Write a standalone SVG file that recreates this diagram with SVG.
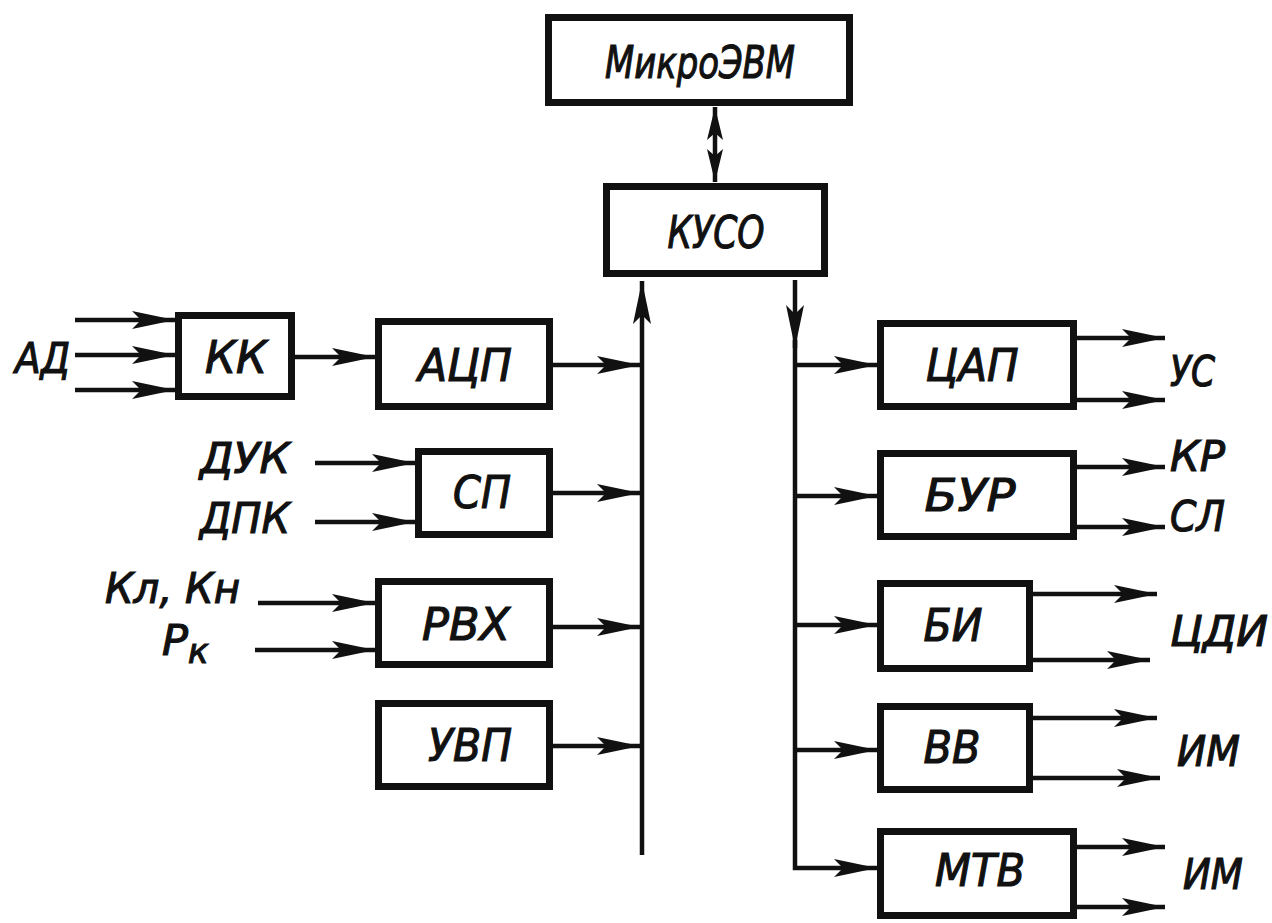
<svg xmlns="http://www.w3.org/2000/svg" width="1272" height="923" viewBox="0 0 1272 923">
<style>
.box{fill:#fff;stroke:#111;stroke-width:7}
.ln{fill:none;stroke:#111;stroke-width:4.5}
.t{font-family:"DejaVu Sans","Liberation Sans",sans-serif;font-style:italic;font-size:45px;fill:#111;stroke:#111;stroke-width:1.2;text-anchor:middle}
.l{font-family:"DejaVu Sans","Liberation Sans",sans-serif;font-style:italic;font-size:43px;fill:#111;stroke:#111;stroke-width:1.2}
</style>
<defs>
<marker id="ah" markerUnits="userSpaceOnUse" markerWidth="44" markerHeight="20" refX="43" refY="10" orient="auto">
<path d="M0,1 L43,10 L0,19 L9,10 Z" fill="#111"/>
</marker>
<marker id="ahs" markerUnits="userSpaceOnUse" markerWidth="34" markerHeight="20" refX="33" refY="10" orient="auto-start-reverse">
<path d="M0,2 L33,10 L0,18 L7,10 Z" fill="#111"/>
</marker>
</defs>
<rect width="1272" height="923" fill="#fff"/>
<g id="connectors">
<line class="ln" x1="715" y1="107" x2="715" y2="182" marker-start="url(#ahs)" marker-end="url(#ahs)"/>
<line class="ln" x1="642" y1="855" x2="642" y2="281" marker-end="url(#ah)"/>
<line class="ln" x1="795" y1="280" x2="795" y2="348" marker-end="url(#ah)"/>
<path class="ln" d="M795,340 L795,868 L877,868" marker-end="url(#ah)"/>
<line class="ln" x1="75" y1="320" x2="175" y2="320" marker-end="url(#ah)"/>
<line class="ln" x1="75" y1="355" x2="175" y2="355" marker-end="url(#ah)"/>
<line class="ln" x1="75" y1="390" x2="175" y2="390" marker-end="url(#ah)"/>
<line class="ln" x1="295" y1="357" x2="375" y2="357" marker-end="url(#ah)"/>
<line class="ln" x1="553" y1="365" x2="640" y2="365" marker-end="url(#ah)"/>
<line class="ln" x1="315" y1="463" x2="415" y2="463" marker-end="url(#ah)"/>
<line class="ln" x1="315" y1="522" x2="415" y2="522" marker-end="url(#ah)"/>
<line class="ln" x1="553" y1="493" x2="640" y2="493" marker-end="url(#ah)"/>
<line class="ln" x1="258" y1="603" x2="375" y2="603" marker-end="url(#ah)"/>
<line class="ln" x1="255" y1="650" x2="375" y2="650" marker-end="url(#ah)"/>
<line class="ln" x1="553" y1="627" x2="640" y2="627" marker-end="url(#ah)"/>
<line class="ln" x1="553" y1="746" x2="640" y2="746" marker-end="url(#ah)"/>
<line class="ln" x1="795" y1="365" x2="877" y2="365" marker-end="url(#ah)"/>
<line class="ln" x1="795" y1="496" x2="877" y2="496" marker-end="url(#ah)"/>
<line class="ln" x1="795" y1="625" x2="877" y2="625" marker-end="url(#ah)"/>
<line class="ln" x1="795" y1="750" x2="877" y2="750" marker-end="url(#ah)"/>
<line class="ln" x1="1077" y1="338" x2="1165" y2="338" marker-end="url(#ah)"/>
<line class="ln" x1="1077" y1="400" x2="1165" y2="400" marker-end="url(#ah)"/>
<line class="ln" x1="1077" y1="467" x2="1165" y2="467" marker-end="url(#ah)"/>
<line class="ln" x1="1077" y1="527" x2="1165" y2="527" marker-end="url(#ah)"/>
<line class="ln" x1="1033" y1="594" x2="1157" y2="594" marker-end="url(#ah)"/>
<line class="ln" x1="1033" y1="660" x2="1150" y2="660" marker-end="url(#ah)"/>
<line class="ln" x1="1033" y1="718" x2="1157" y2="718" marker-end="url(#ah)"/>
<line class="ln" x1="1033" y1="778" x2="1160" y2="778" marker-end="url(#ah)"/>
<line class="ln" x1="1077" y1="847" x2="1165" y2="847" marker-end="url(#ah)"/>
<line class="ln" x1="1077" y1="907" x2="1165" y2="907" marker-end="url(#ah)"/>
</g>
<g id="mikroevm"><rect class="box" x="548.5" y="17.5" width="301" height="85"/><text class="t" x="700" y="78" textLength="190" lengthAdjust="spacingAndGlyphs">МикроЭВМ</text></g>
<g id="kuso"><rect class="box" x="606.5" y="186.5" width="218" height="87"/><text class="t" x="716" y="248" textLength="97" lengthAdjust="spacingAndGlyphs">КУСО</text></g>
<g id="kk"><rect class="box" x="178.5" y="315.5" width="113" height="81"/><text class="t" x="236" y="373" textLength="62" lengthAdjust="spacingAndGlyphs">КК</text></g>
<g id="acp"><rect class="box" x="378.5" y="321.5" width="171" height="85"/><text class="t" x="465" y="381" textLength="94" lengthAdjust="spacingAndGlyphs">АЦП</text></g>
<g id="sp"><rect class="box" x="418.5" y="451.5" width="131" height="83"/><text class="t" x="482" y="508" textLength="58" lengthAdjust="spacingAndGlyphs">СП</text></g>
<g id="rvh"><rect class="box" x="378.5" y="581.5" width="171" height="83"/><text class="t" x="466" y="640" textLength="88" lengthAdjust="spacingAndGlyphs">РВХ</text></g>
<g id="uvp"><rect class="box" x="378.5" y="703.5" width="171" height="83"/><text class="t" x="470" y="761" textLength="84" lengthAdjust="spacingAndGlyphs">УВП</text></g>
<g id="cap"><rect class="box" x="880.5" y="323.5" width="193" height="83"/><text class="t" x="972" y="381" textLength="93" lengthAdjust="spacingAndGlyphs">ЦАП</text></g>
<g id="bur"><rect class="box" x="880.5" y="453.5" width="193" height="83"/><text class="t" x="970" y="511" textLength="91" lengthAdjust="spacingAndGlyphs">БУР</text></g>
<g id="bi"><rect class="box" x="880.5" y="583.5" width="149" height="85"/><text class="t" x="953" y="641" textLength="59" lengthAdjust="spacingAndGlyphs">БИ</text></g>
<g id="vv"><rect class="box" x="880.5" y="706.5" width="149" height="83"/><text class="t" x="952" y="763" textLength="57" lengthAdjust="spacingAndGlyphs">ВВ</text></g>
<g id="mtv"><rect class="box" x="880.5" y="831.5" width="193" height="84"/><text class="t" x="980" y="886" textLength="90" lengthAdjust="spacingAndGlyphs">МТВ</text></g>
<g id="labels">
<text class="l" x="15" y="373" textLength="55" lengthAdjust="spacingAndGlyphs">АД</text>
<text class="l" x="200" y="473" textLength="90" lengthAdjust="spacingAndGlyphs">ДУК</text>
<text class="l" x="200" y="533" textLength="90" lengthAdjust="spacingAndGlyphs">ДПК</text>
<text class="l" x="105" y="603" textLength="135" lengthAdjust="spacingAndGlyphs">Кл, Кн</text>
<text class="l" x="162" y="655">Р<tspan font-size="34" dy="8">к</tspan></text>
<text class="l" x="1170" y="386" textLength="45" lengthAdjust="spacingAndGlyphs">УС</text>
<text class="l" x="1170" y="471" textLength="55" lengthAdjust="spacingAndGlyphs">КР</text>
<text class="l" x="1170" y="531" textLength="55" lengthAdjust="spacingAndGlyphs">СЛ</text>
<text class="l" x="1170" y="646" textLength="98" lengthAdjust="spacingAndGlyphs">ЦДИ</text>
<text class="l" x="1177" y="766" textLength="63" lengthAdjust="spacingAndGlyphs">ИМ</text>
<text class="l" x="1183" y="889" textLength="60" lengthAdjust="spacingAndGlyphs">ИМ</text>
</g>
</svg>
